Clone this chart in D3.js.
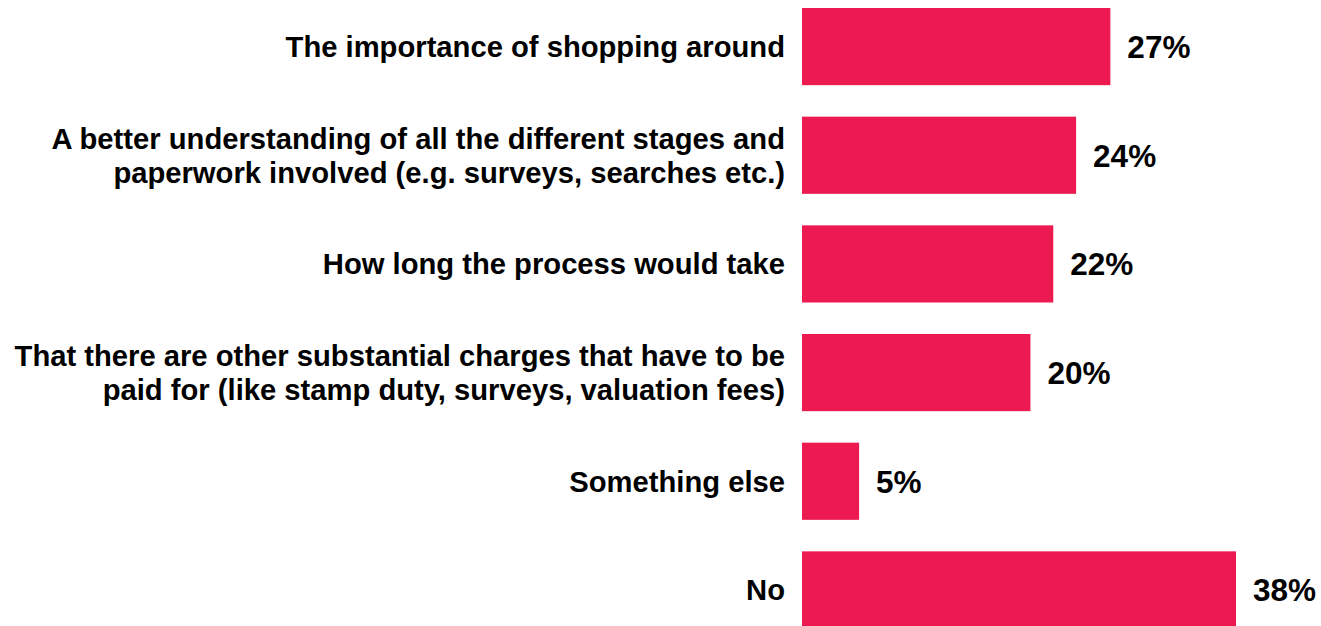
<!DOCTYPE html>
<html>
<head>
<meta charset="utf-8">
<script src="https://cdn.jsdelivr.net/npm/d3@7"></script>
<style>
  html, body { margin: 0; padding: 0; background: #ffffff; overflow: hidden; }
  svg { display: block; }
  text { font-family: "Liberation Sans", Arial, sans-serif; font-weight: bold; fill: #000; }
</style>
</head>
<body>
<svg id="chart" width="1321" height="626"></svg>
<script>
// Survey answers, each answer split into its display lines
const categories = [
  ["The importance of shopping around"],
  ["A better understanding of all the different stages and", "paperwork involved (e.g. surveys, searches etc.)"],
  ["How long the process would take"],
  ["That there are other substantial charges that have to be", "paid for (like stamp duty, surveys, valuation fees)"],
  ["Something else"],
  ["No"]
];
const values = [27, 24, 22, 20, 5, 38];
const valueLabels = ["27%", "24%", "22%", "20%", "5%", "38%"];

const svg = d3.select("#chart");
const barColor = "#ec1a50";

const keys = categories.map((c, i) => i);

const x = d3.scaleLinear().domain([0, 38]).range([802, 1236]);
const y = d3.scaleBand().domain(keys).range([8, 628.5]).paddingInner(0.29).paddingOuter(0);

const rows = svg.selectAll("g.row").data(keys).enter().append("g").attr("class", "row");

rows.append("rect")
  .attr("x", x(0))
  .attr("y", i => y(i))
  .attr("width", i => x(values[i]) - x(0))
  .attr("height", y.bandwidth())
  .attr("fill", barColor);

rows.append("text")
  .attr("x", i => x(values[i]) + 17)
  .attr("y", i => y(i) + y.bandwidth() / 2)
  .attr("dy", "0.36em")
  .style("font-size", "31.5px")
  .text(i => valueLabels[i]);

const lineH = 34;
const labels = rows.append("text")
  .attr("text-anchor", "end")
  .style("font-size", "29.2px")
  .attr("y", i => y(i) + y.bandwidth() / 2);

labels.each(function(i) {
  const lines = categories[i];
  const t = d3.select(this);
  const cy = y(i) + y.bandwidth() / 2;
  lines.forEach((ln, k) => {
    const off = (k - (lines.length - 1) / 2) * lineH;
    t.append("tspan")
      .attr("x", x(0) - 17)
      .attr("y", cy + off)
      .attr("dy", "0.36em")
      .text(ln);
  });
});
</script>
</body>
</html>
